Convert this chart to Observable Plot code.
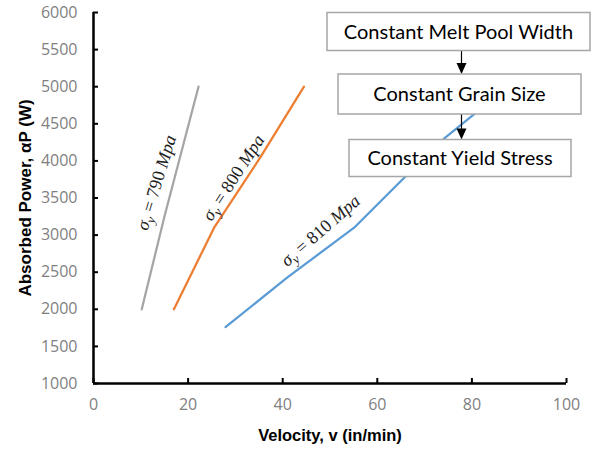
<!DOCTYPE html>
<html>
<head>
<meta charset="utf-8">
<script src="https://cdn.jsdelivr.net/npm/d3@7"></script>
<script src="https://cdn.jsdelivr.net/npm/@observablehq/plot@0.6"></script>
<style>
  html, body { margin: 0; padding: 0; background: white; }
  #chart { position: relative; width: 598px; height: 453px; }
</style>
</head>
<body>
<div id="chart"></div>
<script>
// ---- data ----
const velocityTicks = [0, 20, 40, 60, 80, 100];
const powerTicks = [1000, 1500, 2000, 2500, 3000, 3500, 4000, 4500, 5000, 5500, 6000];

const series = ["σy = 790 Mpa", "σy = 800 Mpa", "σy = 810 Mpa"];
const stress = [790, 800, 810];

const v790 = [10.2, 15.0, 22.2];
const p790 = [2000, 3250, 5000];
const v800 = [17.0, 25.5, 35.3, 44.5];
const p800 = [2000, 3100, 4050, 5000];
const v810 = [27.9, 41.0, 55.1, 65.0, 74.3, 80.1, 87.8];
const p810 = [1760, 2430, 3100, 3730, 4310, 4610, 5000];

// label anchor points (data coordinates) and angles
const labelV = [13.3, 29.6, 48.0];
const labelP = [3707, 3774, 3060];
const labelAngle = [-73, -57, -41];

const flowSteps = ["Constant Melt Pool Width", "Constant Grain Size", "Constant Yield Stress"];

const xTitle = "Velocity, v (in/min)";
const yTitle = "Absorbed Power, αP (W)";

// ---- build tables ----
const rows = [];
[[v790, p790], [v800, p800], [v810, p810]].forEach(([vs, ps], i) => {
  vs.forEach((v, j) => rows.push({series: series[i], v, p: ps[j]}));
});
const labels = series.map((s, i) => ({series: s, stress: stress[i], v: labelV[i], p: labelP[i], angle: labelAngle[i]}));

const colors = ["#a5a5a5", "#ed7d31", "#5b9bd5"];

const plot = Plot.plot({
  width: 598,
  height: 453,
  marginLeft: 93,
  marginRight: 32,
  marginTop: 12,
  marginBottom: 70,
  style: {fontFamily: "'Open Sans', sans-serif", fontSize: "16px", background: "white", overflow: "visible"},
  x: {domain: [0, 100]},
  y: {domain: [1000, 6000]},
  color: {domain: series, range: colors},
  marks: [
    Plot.axisX(velocityTicks, {tickSize: 0, tickPadding: 15, label: null, fill: "#7f7f7f", tickFormat: d => String(d)}),
    Plot.axisX(velocityTicks, {tickSize: -5, fill: "none", stroke: "black", strokeWidth: 2}),
    Plot.axisY(powerTicks, {tickSize: 0, tickPadding: 16, label: null, fill: "#7f7f7f", tickFormat: d => String(d)}),
    Plot.axisY(powerTicks, {tickSize: -5, fill: "none", stroke: "black", strokeWidth: 2}),
    Plot.ruleX([0], {stroke: "black", strokeWidth: 2.5}),
    Plot.ruleY([1000], {stroke: "black", strokeWidth: 2.5}),
    Plot.line(rows, {x: "v", y: "p", z: "series", stroke: "series", strokeWidth: 2.25}),
    Plot.text(labels, {x: "v", y: "p", text: "series", rotate: "angle", ariaDescription: "sigma-labels",
      fill: "#222", fontSize: 18, fontFamily: "'Liberation Serif', serif"}),
    Plot.text([xTitle], {frameAnchor: "bottom", textAnchor: "middle", dy: 57, fontWeight: "bold", fill: "black",
      fontSize: 16.5, fontFamily: "'Liberation Sans', Arial, sans-serif"}),
    Plot.text([yTitle], {frameAnchor: "left", textAnchor: "middle", dx: -68, rotate: -90, fontWeight: "bold", fill: "black",
      fontSize: 17, fontFamily: "'Liberation Sans', Arial, sans-serif"})
  ]
});

document.getElementById("chart").appendChild(plot);

// rewrite sigma labels with subscript and italic math letters
d3.select(plot).selectAll("g[aria-description='sigma-labels'] text").each(function(d, i) {
  const t = d3.select(this);
  const s = labels[i].stress;
  t.text(null);
  t.append("tspan").attr("font-style", "italic").text("σ");
  t.append("tspan").attr("font-style", "italic").attr("font-size", 13).attr("dy", 4).text("y");
  t.append("tspan").attr("dy", -4).text(" = " + s + " ");
  t.append("tspan").attr("font-style", "italic").text("Mpa");
});

// flowchart annotation (pixel layout)
const boxLayout = [
  {x: 327, y: 12.5, w: 263, h: 38},
  {x: 338, y: 74, w: 243, h: 40},
  {x: 349, y: 139.5, w: 222, h: 37}
];
const svg = d3.select(plot);
const g = svg.append("g").attr("aria-label", "flowchart");
const arrowX = 461.5;
for (let i = 0; i < boxLayout.length - 1; i++) {
  const top = boxLayout[i].y + boxLayout[i].h;
  const bottom = boxLayout[i + 1].y;
  g.append("line").attr("x1", arrowX).attr("x2", arrowX).attr("y1", top).attr("y2", bottom - 8)
    .attr("stroke", "black").attr("stroke-width", 1.2);
  g.append("path").attr("d", `M${arrowX - 5},${bottom - 11} L${arrowX + 5},${bottom - 11} L${arrowX},${bottom} Z`)
    .attr("fill", "black");
}
boxLayout.forEach((b, i) => {
  g.append("rect").attr("x", b.x).attr("y", b.y).attr("width", b.w).attr("height", b.h)
    .attr("fill", "white").attr("stroke", "#a6a6a6").attr("stroke-width", 1.5);
  g.append("text").attr("x", b.x + b.w / 2).attr("y", b.y + b.h / 2).attr("dy", "0.35em")
    .attr("text-anchor", "middle").attr("font-family", "Lato, sans-serif").attr("font-size", 20)
    .attr("fill", "black").text(flowSteps[i]);
});
</script>
</body>
</html>
